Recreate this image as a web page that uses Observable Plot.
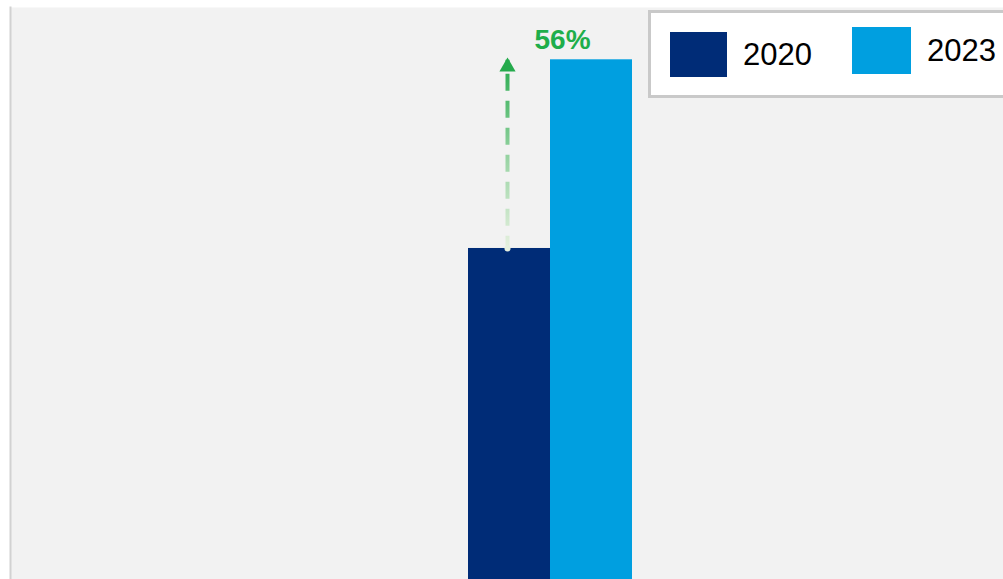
<!DOCTYPE html>
<html>
<head>
<meta charset="utf-8">
<script src="https://cdn.jsdelivr.net/npm/d3@7"></script>
<script src="https://cdn.jsdelivr.net/npm/@observablehq/plot@0.6"></script>
<style>
  html, body { margin: 0; padding: 0; background: #ffffff; }
  #wrap { position: relative; width: 1003px; height: 579px; overflow: hidden; font-family: "Liberation Sans", Arial, sans-serif; }
  #legend { position: absolute; left: 648px; top: 10px; width: 360px; height: 82px; background: #fff; border: 3px solid #c9c9c9; box-sizing: content-box; }
  .item { position: absolute; display: flex; align-items: center; }
  .sw { display: inline-block; }
  .lab { font-size: 31px; color: #000; margin-left: 16px; }
</style>
</head>
<body>
<div id="wrap"></div>
<script>
const years = ["2020", "2023"];
const values = [100, 157];
const colors = ["#002c77", "#009fe0"];
const changeLabel = "56%";

const data = years.map((y, i) => ({year: y, value: values[i]}));
const arrowData = [{year: years[0], from: values[0], to: values[1]}];
const labelData = [{year: years[1], value: values[1], text: changeLabel}];

const chart = Plot.plot({
  width: 1003,
  height: 579,
  marginLeft: 10,
  marginRight: 0,
  marginTop: 7,
  marginBottom: 0,
  style: {background: "#ffffff", fontFamily: "Liberation Sans, Arial, sans-serif"},
  x: {type: "band", domain: years, range: [467, 632], padding: 0, axis: null},
  y: {domain: [0, 172.8], axis: null},
  color: {domain: years, range: colors},
  marks: [
    Plot.frame({fill: "#f2f2f2", stroke: null}),
    Plot.frame({anchor: "left", stroke: "#d2d2d2", strokeWidth: 2}),
    Plot.barY(data, {x: "year", y: "value", fill: "year", inset: 0}),
    Plot.link(arrowData, {
      x: "year", y1: "to", y2: "from", dx: -2,
      stroke: "url(#arrowGrad)", strokeWidth: 4,
      strokeDasharray: "17,10", strokeDashoffset: 13
    }),
    Plot.dot(arrowData, {x: "year", y: "from", dx: -2, r: 3, fill: "#e6f0df", stroke: null}),
    Plot.dot(arrowData, {x: "year", y: "to", symbol: "triangle", r: 6, dx: -2, dy: 7, fill: "#25aa4c", stroke: null}),
    Plot.text(labelData, {
      x: "year", y: "value", text: "text", dx: -29, dy: -20,
      fill: "#1fae4b", fontSize: 28, fontWeight: "bold"
    })
  ]
});

// gradient for the fading dashed arrow, positioned via the y scale
const ys = chart.scale("y");
const yTop = ys.apply(values[1]);
const yBot = ys.apply(values[0]);
const svgNS = "http://www.w3.org/2000/svg";
const defs = document.createElementNS(svgNS, "defs");
const grad = document.createElementNS(svgNS, "linearGradient");
grad.setAttribute("id", "arrowGrad");
grad.setAttribute("gradientUnits", "userSpaceOnUse");
grad.setAttribute("x1", 0); grad.setAttribute("x2", 0);
grad.setAttribute("y1", yBot); grad.setAttribute("y2", yTop);
[["0", "#e6f0df"], ["0.45", "#9ed6a8"], ["1", "#25aa4c"]].forEach(([o, c]) => {
  const s = document.createElementNS(svgNS, "stop");
  s.setAttribute("offset", o); s.setAttribute("stop-color", c);
  grad.appendChild(s);
});
defs.appendChild(grad);
chart.insertBefore(defs, chart.firstChild);

const wrap = document.getElementById("wrap");
wrap.appendChild(chart);

// legend overlay
const legend = document.createElement("div");
legend.id = "legend";
const items = [
  {left: 19, top: 19, w: 57, h: 45},
  {left: 201, top: 14, w: 59, h: 47}
];
years.forEach((y, i) => {
  const it = document.createElement("div");
  it.className = "item";
  it.style.left = items[i].left + "px";
  it.style.top = items[i].top + "px";
  it.style.height = items[i].h + "px";
  const sw = document.createElement("span");
  sw.className = "sw";
  sw.style.width = items[i].w + "px";
  sw.style.height = items[i].h + "px";
  sw.style.background = colors[i];
  const lab = document.createElement("span");
  lab.className = "lab";
  lab.textContent = y;
  it.appendChild(sw); it.appendChild(lab);
  legend.appendChild(it);
});
wrap.appendChild(legend);
</script>
</body>
</html>
